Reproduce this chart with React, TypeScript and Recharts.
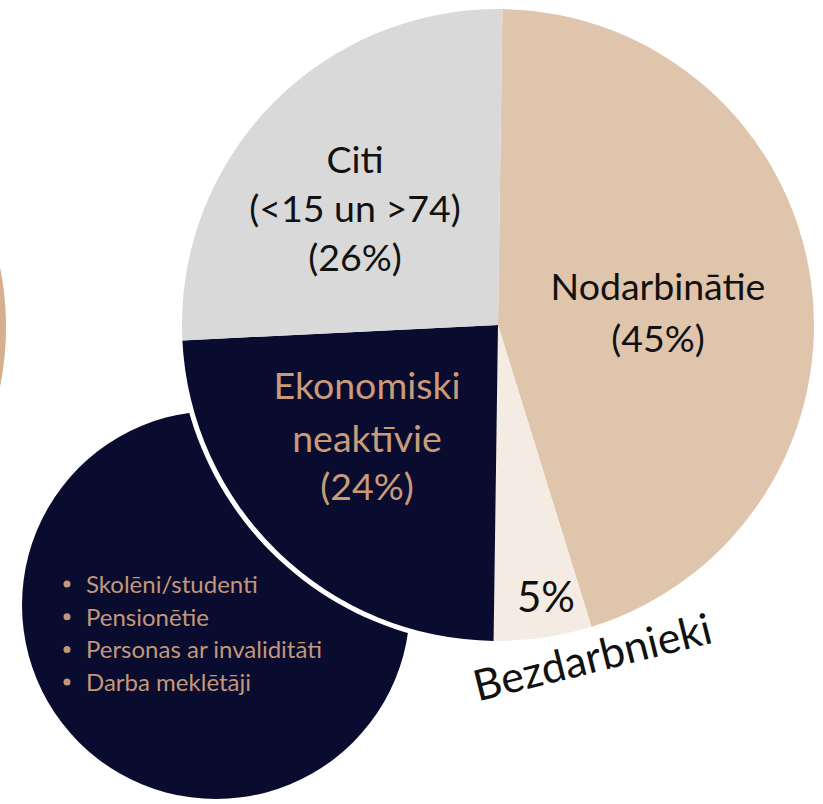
import { PieChart, Pie, Cell } from "recharts";

const SLICE_NAMES = ["Nodarbinātie", "Bezdarbnieki", "Ekonomiski neaktīvie", "Citi"];
const SLICE_VALUES = [45, 5, 24, 26];
const SLICE_COLORS = ["#E0C5AD", "#F4EBE3", "#090C2E", "#D9D9D9"];
const SLICE_LABELS = [
  ["Nodarbinātie", "(45%)"],
  ["5%"],
  ["Ekonomiski", "neaktīvie", "(24%)"],
  ["Citi", "(<15 un >74)", "(26%)"],
];
const OUTSIDE_LABEL = "Bezdarbnieki";
const INACTIVE_GROUPS = ["Skolēni/studenti", "Pensionētie", "Personas ar invaliditāti", "Darba meklētāji"];

const FONT = "Lato, 'Noto Sans', sans-serif";
const TAN = "#C99B7A";

// where each slice label block sits, relative to pie centre
const labelPos = [
  { dx: 160, dy: [-25, 27], fill: "#111", size: 37.5 },
  { dx: 48, dy: [287], fill: "#111", size: 42 },
  { dx: -131, dy: [74, 127, 175], fill: TAN, size: 37.5 },
  { dx: -143, dy: [-152, -103, -54], fill: "#111", size: 37.5 },
];

const pieData = SLICE_NAMES.map((name, i) => ({ name, value: SLICE_VALUES[i] }));
const one = [{ name: "bg", value: 1 }];

function sliceLabel(props: any) {
  const { cx, cy, index } = props;
  const p = labelPos[index];
  return (
    <g key={index}>
      {SLICE_LABELS[index].map((t, j) => (
        <text
          key={j}
          x={cx + p.dx}
          y={cy + p.dy[j]}
          textAnchor="middle"
          fill={p.fill}
          fontSize={p.size}
          fontFamily={FONT}
        >
          {t}
        </text>
      ))}
      {index === 1 && (
        <text
          x={cx + 98}
          y={cy + 347}
          textAnchor="middle"
          fill="#111"
          fontSize={43}
          fontFamily={FONT}
          transform={`rotate(-14 ${cx + 98} ${cy + 347})`}
        >
          {OUTSIDE_LABEL}
        </text>
      )}
    </g>
  );
}

function bulletLabel(props: any) {
  const { cx, cy } = props;
  return (
    <g key="bullets">
      {INACTIVE_GROUPS.map((t, i) => (
        <g key={t}>
          <circle cx={cx - 149} cy={cy - 21 + i * 32.7} r={3.5} fill="#C4977A" />
          <text x={cx - 130} y={cy - 12 + i * 32.7} fill="#C4977A" fontSize={24} fontFamily={FONT}>
            {t}
          </text>
        </g>
      ))}
    </g>
  );
}

export default function App() {
  return (
    <div style={{ position: "absolute", left: 0, top: 0, width: 823, height: 804, background: "#fff" }}>
      <PieChart width={823} height={804} margin={{ top: 0, right: 0, bottom: 0, left: 0 }}>
        <Pie
          data={one}
          dataKey="value"
          cx={-297}
          cy={327}
          outerRadius={303}
          stroke="none"
          fill="#D4AF90"
          isAnimationActive={false}
        />
        <Pie
          data={one}
          dataKey="value"
          cx={216}
          cy={605}
          outerRadius={194}
          stroke="none"
          fill="#090C2E"
          label={bulletLabel}
          labelLine={false}
          isAnimationActive={false}
        />
        <Pie
          data={one}
          dataKey="value"
          cx={498}
          cy={325}
          outerRadius={321}
          stroke="none"
          fill="#FFFFFF"
          isAnimationActive={false}
        />
        <Pie
          data={pieData}
          dataKey="value"
          nameKey="name"
          cx={498}
          cy={325}
          outerRadius={316}
          startAngle={89.2}
          endAngle={-270.8}
          stroke="none"
          label={sliceLabel}
          labelLine={false}
          isAnimationActive={false}
        >
          {pieData.map((_, i) => (
            <Cell key={i} fill={SLICE_COLORS[i]} />
          ))}
        </Pie>
      </PieChart>
    </div>
  );
}
